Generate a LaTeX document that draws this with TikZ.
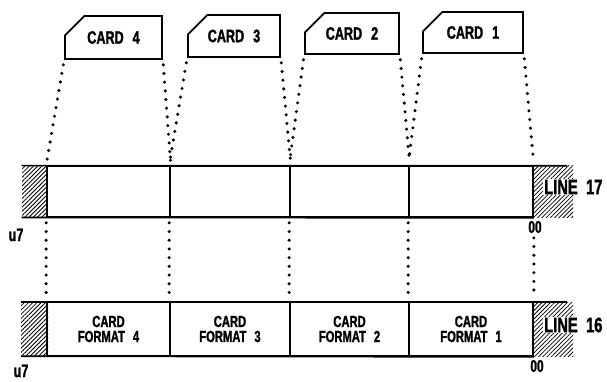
\documentclass[tikz,border=0pt]{standalone}
\usepackage{fontspec}
\newfontfamily\cardfont{Liberation Sans Bold}[FakeStretch=0.7,FakeBold=1.5]
\usetikzlibrary{positioning,shapes.misc,patterns.meta}

\tikzset{
  lbl/.style={inner sep=0,font=\cardfont\fontsize{18}{19}\selectfont},
  card/.style={draw,line width=1.7pt,chamfered rectangle,chamfered rectangle corners=north west,
    chamfered rectangle xsep=13pt,chamfered rectangle ysep=13pt,inner sep=0,lbl},
  cell/.style={draw,line width=1.7pt,minimum width=#1,inner sep=0,align=center,
    font=\cardfont\fontsize{16}{15}\selectfont},
  hatch/.style={inner sep=0,minimum width=#1,pattern={Lines[angle=45,distance=3pt,line width=0.8pt]}},
  edge/.style={line width=1.7pt},
  dots/.style={line width=3.4pt,line cap=round,dash pattern=on 0pt off 8.7pt,shorten <=5pt,shorten >=4pt},
}

\begin{document}
\begin{tikzpicture}[x=1pt,y=-1pt]
\useasboundingbox (0,0) rectangle (607,382);
% punched cards
\node[card,minimum width=97pt,minimum height=43pt] (card4) at (113.5,37.5) {CARD\hspace{0.5em}4};
\node[card,minimum width=92pt,minimum height=42pt] (card3) at (234,36) {CARD\hspace{0.5em}3};
\node[card,minimum width=94pt,minimum height=41pt] (card2) at (352,33.5) {CARD\hspace{0.5em}2};
\node[card,minimum width=100pt,minimum height=41pt] (card1) at (473,32.5) {CARD\hspace{0.5em}1};

% line 17
\begin{scope}[every node/.append style={minimum height=51pt}]
\node[hatch=25pt] (a0) at (34.5,191.5) {};
\node[hatch=40pt] (a5) at (553,191.5) {};
\node[cell=123pt] (a4) at (108.5,191.5) {};
\node[cell=120pt] (a3) at (230,191.5) {};
\node[cell=119pt] (a2) at (349.5,191.5) {};
\node[cell=124pt] (a1) at (471,191.5) {};
\end{scope}
\draw[edge] (a0.north west) -- ([xshift=-6pt]a5.north east);
\draw[edge] (a0.south west) -- (a1.south east);
\node[lbl,fill=white,anchor=west,inner sep=1pt,font=\cardfont\fontsize{21}{22}\selectfont] (l17) at (543,187) {LINE\hspace{0.4em}17};
\node[lbl] (u17) at (16,235) {u7};
\node[lbl,font=\cardfont\fontsize{17}{18}\selectfont] (z17) at (535,227) {00};

% line 16
\begin{scope}[every node/.append style={minimum height=54pt}]
\node[hatch=27pt] (f0) at (34.5,329) {};
\node[hatch=40pt] (f5) at (553,329) {};
\node[cell=123pt] (f4) at (108.5,329) {CARD\\FORMAT\hspace{0.5em}4};
\node[cell=120pt] (f3) at (230,329) {CARD\\FORMAT\hspace{0.5em}3};
\node[cell=119pt] (f2) at (349.5,329) {CARD\\FORMAT\hspace{0.5em}2};
\node[cell=124pt] (f1) at (471,329) {CARD\\FORMAT\hspace{0.5em}1};
\end{scope}
\draw[edge] (f0.north west) -- ([xshift=-6pt]f5.north east);
\draw[edge] (f0.south west) -- (f1.south east);
\node[lbl,fill=white,anchor=west,inner sep=1pt,font=\cardfont\fontsize{21}{22}\selectfont] (l16) at (543,325) {LINE\hspace{0.4em}16};
\node[lbl] (u16) at (21,371) {u7};
\node[lbl,font=\cardfont\fontsize{17}{18}\selectfont] (z16) at (537,366) {00};

% cards to line 17
\draw[dots] (card4.south west) -- (a4.north west);
\draw[dots] (card4.south east) -- (a4.north east);
\draw[dots] (card3.south west) -- (a3.north west);
\draw[dots] (card3.south east) -- (a3.north east);
\draw[dots] (card2.south west) -- (a2.north west);
\draw[dots] (card2.south east) -- (a2.north east);
\draw[dots] (card1.south west) -- (a1.north west);
\draw[dots] (card1.south east) -- (a1.north east);

% line 17 to line 16
\draw[dots] (a4.south west) -- (f4.north west);
\draw[dots] (a3.south west) -- (f3.north west);
\draw[dots] (a2.south west) -- (f2.north west);
\draw[dots] (a1.south west) -- (f1.north west);
\draw[dots,shorten <=20pt] (a1.south east) -- (f1.north east);
\end{tikzpicture}
\end{document}
